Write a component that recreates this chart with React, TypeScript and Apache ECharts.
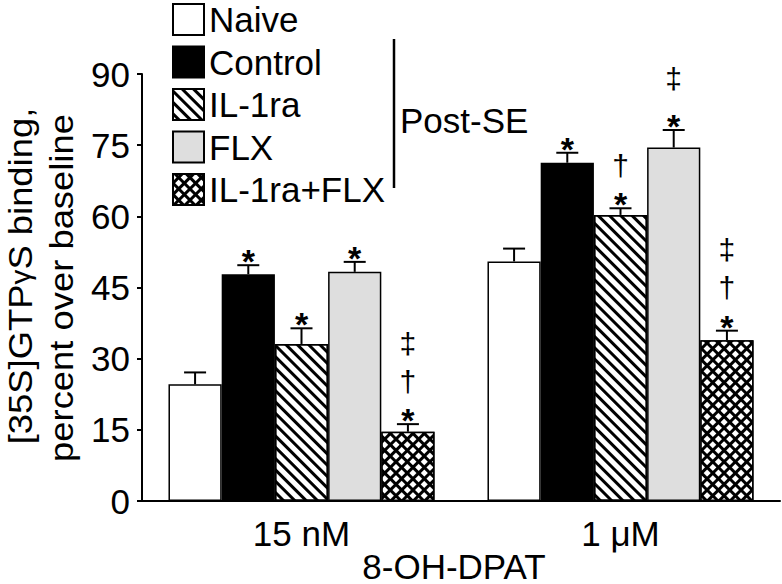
import React, { useEffect, useRef } from "react";
import * as echarts from "echarts";

const categories = ["15 nM", "1 μM"];
const seriesNames = ["Naive", "Control", "IL-1ra", "FLX", "IL-1ra+FLX"];
const naive = [24.6, 50.5];
const control = [47.8, 71.3];
const il1ra = [33.1, 60.3];
const flx = [48.3, 74.5];
const combo = [14.6, 33.9];
const naiveErr = [2.5, 2.7];
const controlErr = [1.9, 2.1];
const il1raErr = [3.3, 1.4];
const flxErr = [2.1, 3.7];
const comboErr = [1.6, 2.0];
const naiveMarks = ["", ""];
const controlMarks = ["*", "*"];
const il1raMarks = ["*", "*†"];
const flxMarks = ["*", "*‡"];
const comboMarks = ["*†‡", "*†‡"];
const yTicks = [0, 15, 30, 45, 60, 75, 90];

const FONT = "'Liberation Sans', Arial, Helvetica, sans-serif";
const CAT_GAP = 0.166;

const values = [naive, control, il1ra, flx, combo];
const errs = [naiveErr, controlErr, il1raErr, flxErr, comboErr];
const marks = [naiveMarks, controlMarks, il1raMarks, flxMarks, comboMarks];

export default function App() {
  const ref = useRef<HTMLDivElement>(null);
  useEffect(() => {
    if (!ref.current) return;
    const chart = echarts.init(ref.current, undefined, { renderer: "svg" });

    const stripes = {
      symbol: "rect",
      symbolSize: 1,
      color: "#000",
      dashArrayX: [1, 0],
      dashArrayY: [2.4, 4.7],
      rotation: Math.PI / 4,
    };
    const hatch = {
      symbol: "rect",
      symbolSize: 1,
      color: "#fff",
      dashArrayX: [5, 2.4],
      dashArrayY: [5, 2.4],
      rotation: Math.PI / 4,
    };
    const styles: any[] = [
      { color: "#fff" },
      { color: "#000" },
      { color: "#fff", decal: stripes },
      { color: "#dedede" },
      { color: "#000", decal: hatch },
    ];

    const barSeries = seriesNames.map((name, i) => ({
      type: "bar",
      name,
      data: values[i],
      barGap: "0%",
      barCategoryGap: CAT_GAP * 100 + "%",
      itemStyle: { ...styles[i], borderColor: "#000", borderWidth: 1.5 },
      emphasis: { disabled: true },
    }));

    const errData: any[] = [];
    const errMarks: string[] = [];
    values.forEach((arr, s) => {
      arr.forEach((v, c) => {
        errData.push([c, s, v, errs[s][c]]);
        errMarks.push(marks[s][c]);
      });
    });

    const errSeries = {
      type: "custom",
      name: "err",
      z: 10,
      data: errData,
      encode: { x: 0, y: 2 },
      renderItem: (params: any, api: any) => {
        const c = api.value(0);
        const s = api.value(1);
        const v = api.value(2);
        const e = api.value(3);
        const band = api.size([1, 0])[0];
        const bw = (band * (1 - CAT_GAP)) / 5;
        const base = api.coord([c, v]);
        const x = base[0] + (s - 2) * bw;
        const yBar = base[1];
        const yTop = api.coord([c, v + e])[1];
        const children: any[] = [
          { type: "line", shape: { x1: x, y1: yBar, x2: x, y2: yTop }, style: { stroke: "#000", lineWidth: 2 } },
          { type: "line", shape: { x1: x - 11, y1: yTop, x2: x + 11, y2: yTop }, style: { stroke: "#000", lineWidth: 2 } },
        ];
        const m = errMarks[params.dataIndex] || "";
        Array.from(m).forEach((ch, k) => {
          const isStar = ch === "*";
          const cy = yTop - 13 - 30 * k - (ch === "‡" ? 8 : 0);
          children.push({
            type: "text",
            style: {
              text: ch,
              x,
              y: isStar ? cy + 9 : cy,
              align: "center",
              verticalAlign: "middle",
              fontSize: isStar ? 34 : 30,
              fontWeight: isStar ? "bold" : "normal",
              fontFamily: FONT,
              fill: "#000",
            },
          });
        });
        return { type: "group", children };
      },
    };

    chart.setOption({
      animation: false,
      grid: { left: 142, right: 2, top: 74, bottom: 83 },
      legend: {
        data: seriesNames,
        orient: "vertical",
        left: 172,
        top: 2,
        padding: 0,
        itemWidth: 31,
        itemHeight: 31,
        itemGap: 7.5,
        icon: "rect",
        selectedMode: false,
        textStyle: { fontSize: 35, color: "#000", fontFamily: FONT, padding: [0, 0, 0, 0] },
      },
      xAxis: {
        type: "category",
        data: categories,
        axisLine: { lineStyle: { color: "#000", width: 2 } },
        axisTick: { show: false },
        axisLabel: { fontSize: 35, color: "#000", fontFamily: FONT, margin: 15 },
      },
      yAxis: {
        type: "value",
        min: yTicks[0],
        max: yTicks[yTicks.length - 1],
        interval: 15,
        axisLine: { show: true, lineStyle: { color: "#000", width: 2 } },
        axisTick: { show: true, length: 5, lineStyle: { color: "#000", width: 2 } },
        axisLabel: { fontSize: 35, color: "#000", fontFamily: FONT, margin: 12 },
        splitLine: { show: false },
      },
      graphic: [
        { type: "line", shape: { x1: 394, y1: 39, x2: 394, y2: 188 }, style: { stroke: "#000", lineWidth: 2.5 } },
        { type: "text", x: 400, y: 120, style: { text: "Post-SE", fontSize: 35, fontFamily: FONT, fill: "#000", verticalAlign: "middle" } },
        { type: "text", x: 454, y: 566, style: { text: "8-OH-DPAT", fontSize: 35, fontFamily: FONT, fill: "#000", align: "center", verticalAlign: "middle" } },
        {
          type: "text", x: 20, y: 276, rotation: Math.PI / 2, scaleX: 1.07,
          style: {
            text: "[35S]GTP{g|γ}S binding,",
            fontSize: 34, fontFamily: FONT, fill: "#000", align: "center", verticalAlign: "middle",
            rich: { g: { fontSize: 28, fontFamily: FONT, fill: "#000" } },
          },
        },
        {
          type: "text", x: 61, y: 288, rotation: Math.PI / 2, scaleX: 1.07,
          style: { text: "percent over baseline", fontSize: 34, fontFamily: FONT, fill: "#000", align: "center", verticalAlign: "middle" },
        },
      ],
      series: [...barSeries, errSeries],
    });
    return () => chart.dispose();
  }, []);
  return <div ref={ref} style={{ width: 782, height: 584, position: "absolute", left: 0, top: 0 }} />;
}
